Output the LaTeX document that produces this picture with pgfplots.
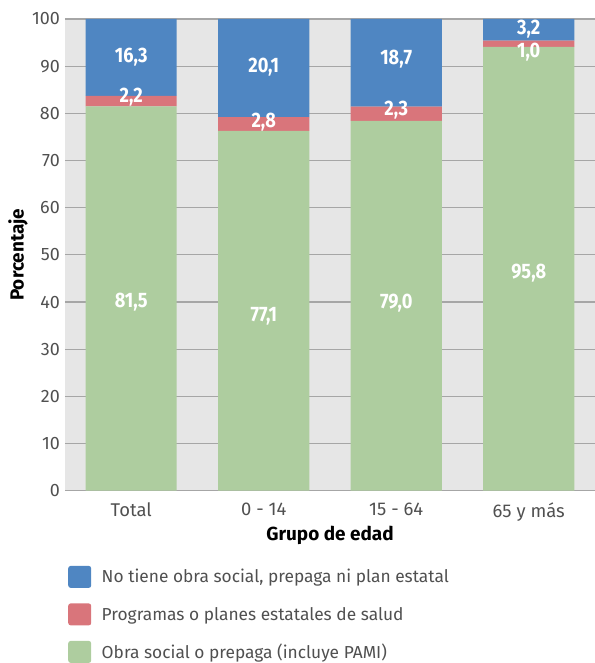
\documentclass[border=0pt]{standalone}
\usepackage{pgfplots}
\pgfplotsset{compat=1.18}
\usepackage{fontspec}
\setmainfont{Fira Sans}
\newfontfamily\labfont{Fira Sans}[FakeStretch=0.87]
\definecolor{cblue}{HTML}{4F86C2}
\definecolor{cred}{HTML}{D9757B}
\definecolor{cgreen}{HTML}{AECD9F}
\definecolor{cbg}{HTML}{E6E6E6}
\definecolor{cgrid}{HTML}{A6A6A6}
\definecolor{ctick}{HTML}{505050}
\tikzset{vlab/.style={text=white, font=\labfont\fontsize{21}{23}\selectfont\bfseries, anchor=center, inner sep=0pt}}
\begin{document}
\begin{tikzpicture}
\useasboundingbox (-65bp,-172.3bp) rectangle (530bp,490.7bp);
\begin{axis}[
  at={(0,0)}, anchor=south west,
  scale only axis, width=530bp, height=471.7bp,
  ybar stacked, bar width=91bp,
  xmin=-0.5, xmax=3.5, ymin=0, ymax=100,
  xtick={0,1,2,3}, xticklabels={Total,0 - 14,15 - 64,65 y más},
  ytick={0,10,...,100},
  ymajorgrids, grid style={cgrid, line width=1.2bp},
  axis line style={draw=none},
  major tick length=0pt,
  axis background/.style={fill=cbg},
  /pgf/number format/assume math mode=true,
  yticklabel style={font=\fontsize{18}{21}\selectfont, text=ctick, anchor=east, inner sep=0pt, xshift=-5bp},
  xticklabel style={font=\fontsize{18.5}{21}\selectfont, text=ctick, anchor=north, inner sep=0pt, yshift=-12bp},
  ylabel={Porcentaje},
  ylabel style={font=\fontsize{19}{22}\selectfont\bfseries, at={(axis description cs:-0.0887,0.5)}, anchor=center},
  xlabel={Grupo de edad},
  xlabel style={font=\fontsize{19}{22}\selectfont\bfseries, at={(axis description cs:0.5,-0.094)}, anchor=center},
  legend image code/.code={\fill[#1,rounded corners=2.5bp] (0bp,-11bp) rectangle (23bp,11bp);},
  legend style={at={(axis description cs:0.0057,-0.159)}, anchor=north west, draw=none, fill=none,
    inner sep=0pt, row sep=15.5bp, column sep=10.5bp,
    font=\fontsize{17.4}{21}\selectfont, text=ctick,
    nodes={inner sep=0pt}},
  legend cell align=left,
  reverse legend,
]
\addplot[fill=cgreen, draw=none] coordinates {(0,81.5) (1,76.3) (2,78.4) (3,94.1)};
\addplot[fill=cred, draw=none] coordinates {(0,2.2) (1,2.9) (2,3.0) (3,1.3)};
\addplot[fill=cblue, draw=none] coordinates {(0,16.3) (1,20.8) (2,18.6) (3,4.6)};
\legend{Obra social o prepaga (incluye PAMI),Programas o planes estatales de salud,{No tiene obra social, prepaga ni plan estatal}}
\coordinate (a1) at (axis cs:0,91.9);
\coordinate (a2) at (axis cs:0,83.5);
\coordinate (a3) at (axis cs:0,40.0);
\coordinate (b1) at (axis cs:1,89.8);
\coordinate (b2) at (axis cs:1,78.2);
\coordinate (b3) at (axis cs:1,36.9);
\coordinate (c1) at (axis cs:2,91.5);
\coordinate (c2) at (axis cs:2,80.7);
\coordinate (c3) at (axis cs:2,39.8);
\coordinate (d1) at (axis cs:3,97.9);
\coordinate (d2) at (axis cs:3,93.0);
\coordinate (d3) at (axis cs:3,46.1);
\end{axis}
\node[vlab] at (a1) {16,3};
\node[vlab] at (a2) {2,2};
\node[vlab] at (a3) {81,5};
\node[vlab] at (b1) {20,1};
\node[vlab] at (b2) {2,8};
\node[vlab] at (b3) {77,1};
\node[vlab] at (c1) {18,7};
\node[vlab] at (c2) {2,3};
\node[vlab] at (c3) {79,0};
\node[vlab] at (d1) {3,2};
\node[vlab] at (d2) {1,0};
\node[vlab] at (d3) {95,8};
\end{tikzpicture}
\end{document}
